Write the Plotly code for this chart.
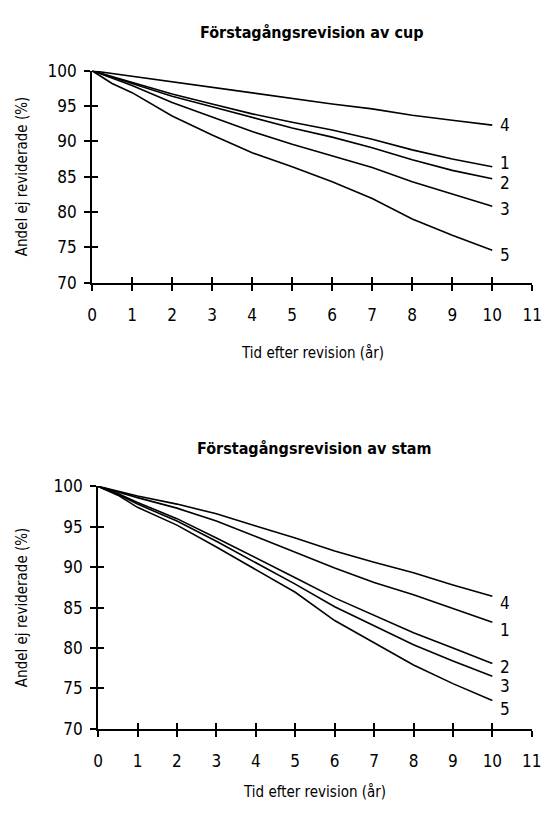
import plotly.graph_objects as go

# ---------------- data ----------------
years = [0, 0.5, 1, 2, 3, 4, 5, 6, 7, 8, 9, 10]

cup_1 = [100, 99.2, 98.3, 96.7, 95.3, 93.9, 92.7, 91.6, 90.3, 88.8, 87.5, 86.4]
cup_2 = [100, 99.1, 98.2, 96.4, 94.9, 93.4, 91.9, 90.6, 89.1, 87.4, 85.9, 84.7]
cup_3 = [100, 98.9, 97.9, 95.5, 93.5, 91.4, 89.6, 88.0, 86.3, 84.3, 82.5, 80.8]
cup_4 = [100, 99.6, 99.2, 98.4, 97.6, 96.8, 96.0, 95.3, 94.6, 93.7, 93.0, 92.3]
cup_5 = [100, 98.2, 96.9, 93.6, 90.9, 88.4, 86.4, 84.3, 81.9, 79.0, 76.7, 74.6]

stam_1 = [100, 99.3, 98.6, 97.3, 95.7, 93.8, 91.8, 89.9, 88.1, 86.6, 84.9, 83.2]
stam_2 = [100, 99.1, 98.0, 96.0, 93.6, 91.2, 88.7, 86.2, 84.0, 81.9, 80.0, 78.1]
stam_3 = [100, 99.0, 97.8, 95.7, 93.2, 90.6, 87.9, 85.1, 82.7, 80.4, 78.4, 76.5]
stam_4 = [100, 99.4, 98.8, 97.8, 96.6, 95.1, 93.6, 92.0, 90.6, 89.3, 87.8, 86.4]
stam_5 = [100, 98.9, 97.4, 95.2, 92.5, 89.7, 86.9, 83.4, 80.6, 77.9, 75.6, 73.5]

titles = ["Förstagångsrevision av cup", "Förstagångsrevision av stam"]
x_title = "Tid efter revision (år)"
y_title = "Andel ej reviderade (%)"
x_ticks = list(range(0, 12))
y_ticks = [70, 75, 80, 85, 90, 95, 100]

cup_series = {"1": cup_1, "2": cup_2, "3": cup_3, "4": cup_4, "5": cup_5}
stam_series = {"1": stam_1, "2": stam_2, "3": stam_3, "4": stam_4, "5": stam_5}

# label pixel nudges (style, not data)
cup_shift = {"4": 0, "1": 4, "2": -4, "3": -3, "5": -5}
stam_shift = {"4": -7, "1": -8, "2": -4, "3": -10, "5": -8}

FONT = "DejaVu Sans Condensed, Liberation Sans Narrow, sans-serif"
W, H = 552, 814

fig = go.Figure()

panels = [
    dict(series=cup_series, shift=cup_shift, xa="x", ya="y",
         xdom=[89.5 / W, 542 / W], ydom=[1 - 279.5 / H, 1 - 62.3 / H],
         title=titles[0], title_y=23, xt_y=352, yt_x=17),
    dict(series=stam_series, shift=stam_shift, xa="x2", ya="y2",
         xdom=[95.7 / W, 541.5 / W], ydom=[1 - 737 / H, 1 - 488.3 / H],
         title=titles[1], title_y=450, xt_y=802, yt_x=17),
]

annotations = []
for i, p in enumerate(panels):
    for name, vals in p["series"].items():
        fig.add_trace(go.Scatter(
            x=years, y=vals, mode="lines", xaxis=p["xa"], yaxis=p["ya"],
            line=dict(color="black", width=1.6), showlegend=False,
            hoverinfo="skip"))
        annotations.append(dict(
            x=years[-1], y=vals[-1], xref=p["xa"], yref=p["ya"],
            text=name, showarrow=False, xanchor="left", yanchor="middle",
            xshift=6, yshift=p["shift"][name],
            font=dict(family=FONT, size=17, color="black")))
    annotations.append(dict(
        x=(p["xdom"][0] + p["xdom"][1]) / 2, y=1 - p["title_y"] / H,
        xref="paper", yref="paper", text="<b>" + p["title"] + "</b>",
        showarrow=False, xanchor="center", yanchor="middle",
        font=dict(family=FONT, size=16, color="black")))
    annotations.append(dict(
        x=(p["xdom"][0] + p["xdom"][1]) / 2, y=1 - p["xt_y"] / H,
        xref="paper", yref="paper", text=x_title,
        showarrow=False, xanchor="center", yanchor="middle",
        font=dict(family=FONT, size=15, color="black")))
    annotations.append(dict(
        x=p["yt_x"] / W, y=(p["ydom"][0] + p["ydom"][1]) / 2,
        xref="paper", yref="paper", text=y_title, textangle=-90,
        showarrow=False, xanchor="center", yanchor="middle",
        font=dict(family=FONT, size=15, color="black")))

axis_common = dict(showgrid=False, zeroline=False, showline=True,
                   linecolor="black", linewidth=2, ticks="outside",
                   ticklen=6, tickwidth=2, tickcolor="black",
                   tickfont=dict(family=FONT, size=17, color="black"))

layout = dict(
    width=W, height=H, margin=dict(l=0, r=0, t=0, b=0),
    paper_bgcolor="white", plot_bgcolor="white",
    annotations=annotations, showlegend=False,
)

for idx, p in enumerate(panels):
    xk = "xaxis" if idx == 0 else "xaxis2"
    yk = "yaxis" if idx == 0 else "yaxis2"
    layout[xk] = dict(axis_common, domain=p["xdom"], range=[0, 11],
                      tickvals=x_ticks, anchor=p["ya"], ticklabelstandoff=10)
    layout[yk] = dict(axis_common, domain=p["ydom"], range=[70, 100],
                      tickvals=y_ticks, anchor=p["xa"], ticklabelstandoff=4)

# overlay axes to draw the inner half of the crossing tick marks
overlay_x = ["xaxis3", "xaxis4"]
overlay_y = ["yaxis3", "yaxis4"]
for idx, p in enumerate(panels):
    layout[overlay_x[idx]] = dict(
        overlaying=p["xa"], range=[0, 11], tickvals=x_ticks,
        showticklabels=False, ticks="inside", ticklen=6, tickwidth=2,
        tickcolor="black", showgrid=False, zeroline=False, showline=False,
        anchor=p["ya"], side="bottom")
    layout[overlay_y[idx]] = dict(
        overlaying=p["ya"], range=[70, 100], tickvals=y_ticks,
        showticklabels=False, ticks="inside", ticklen=6, tickwidth=2,
        tickcolor="black", showgrid=False, zeroline=False, showline=False,
        anchor=p["xa"], side="left")

for idx, p in enumerate(panels):
    fig.add_trace(go.Scatter(x=[0], y=[70], mode="markers",
                             xaxis="x%d" % (idx + 3), yaxis="y%d" % (idx + 3),
                             marker=dict(opacity=0), showlegend=False,
                             hoverinfo="skip"))

fig.update_layout(**layout)
fig.write_html("out.html")
